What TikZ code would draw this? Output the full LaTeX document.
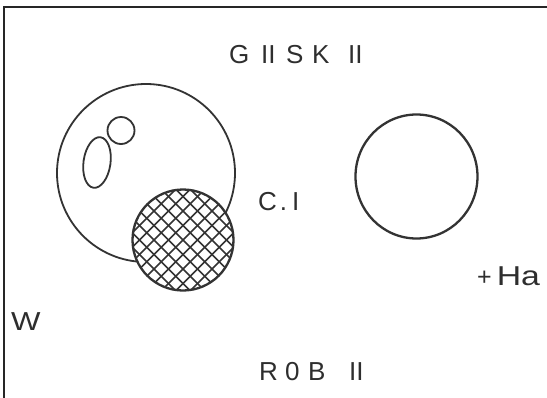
\documentclass[tikz,border=0pt]{standalone}
\usepackage{fontspec}
\setmainfont{Liberation Sans}
\usetikzlibrary{shapes.geometric}
\begin{document}
\begin{tikzpicture}[x=1pt,y=-1pt,
  outline/.style={draw=black!80, line width=2.3pt},
  thinout/.style={draw=black!80, line width=1.8pt},
  lbl/.style={font=\fontsize{26}{28}\selectfont, text=black!82, inner sep=0pt}]
\useasboundingbox (0,0) rectangle (547,397);
\fill[white] (0,0) rectangle (547,397);
\draw[line width=1.8pt, black!85] (4,420) -- (4,7.3) -- (560,7.3);
% big circle
\node[thinout, ellipse, minimum width=178pt, minimum height=178pt, inner sep=0pt] (big) at (146,173) {};
% small shapes inside
\node[thinout, ellipse, minimum width=27pt, minimum height=51pt, inner sep=0pt, rotate=-8] (oval) at (97,162.5) {};
\node[thinout, circle, minimum size=27pt, inner sep=0pt] (dot) at (121,130.5) {};
% hatched circle
\node[circle, fill=white, minimum size=102pt, inner sep=0pt] (hatch) at (183,240) {};
\begin{scope}
  \clip (183,240) circle (51);
  \foreach \k in {-9,...,9} {
    \draw[line width=1.6pt, black!80] ({183+\k*14.5-60},{240-60}) -- ({183+\k*14.5+60},{240+60});
    \draw[line width=1.6pt, black!80] ({183+\k*14.5-60},{240+60}) -- ({183+\k*14.5+60},{240-60});
  }
\end{scope}
\draw[outline] (183,240) circle (50.5);
% right circle
\node[outline, ellipse, minimum width=122pt, minimum height=124pt, inner sep=0pt] (right) at (416.5,176.5) {};
% labels
\node[lbl, anchor=west] (g) at (229,55) {\rlap{G}\hspace{32pt}\rlap{II}\hspace{25pt}\rlap{S}\hspace{26pt}\rlap{K}\hspace{36pt}II};
\node[lbl, anchor=west] (c) at (258,202) {C\hspace{3pt}.\hspace{5pt}I};
\node[lbl, anchor=west] (ha) at (477,276) {{\fontsize{25}{26}\selectfont +}\hspace{5pt}\scalebox{1.3}[1.05]{Ha}};
\node[lbl, anchor=west] (w) at (11,322) {\scalebox{1.2}[1]{W}};
\node[lbl, anchor=west] (r) at (259,372) {\rlap{R}\hspace{26pt}\rlap{0}\hspace{23pt}\rlap{B}\hspace{41pt}II};
\end{tikzpicture}
\end{document}
